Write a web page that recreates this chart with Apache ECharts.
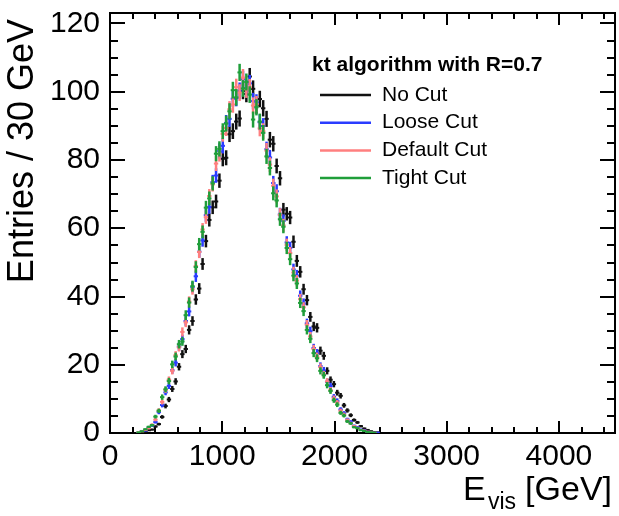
<!DOCTYPE html>
<html><head><meta charset="utf-8">
<script src="https://cdn.jsdelivr.net/npm/echarts@6/dist/echarts.min.js"></script>
<style>html,body{margin:0;padding:0;background:#fff;}#c{width:619px;height:516px;}</style>
</head><body><div id="c"></div>
<script>
// ---- data ----
const seriesNames = ['No Cut', 'Loose Cut', 'Default Cut', 'Tight Cut'];
const seriesColors = ['#111111', '#2a3cff', '#ff7f7f', '#1f9e3a'];
const binLowEdge = 240;   // GeV, low edge of first listed bin
const binWidth = 30;      // GeV
const eventWeight = 0.06; // per-entry weight used for statistical errors
const noCut = [0.0,0.1,0.3,0.8,1.0,1.9,2.6,4.7,7.9,9.8,
  12.9,15.1,19.4,23.1,24.6,30.2,32.8,39.1,42.3,49.5,
  56.2,62.4,66.1,67.8,73.9,80.3,80.6,87.5,88.4,91.2,
  92.1,100.2,99.3,104.4,100.8,95.9,97.8,95.1,92.0,85.9,
  84.7,78.2,74.6,65.4,64.2,63.1,56.0,50.4,47.2,42.1,
  38.9,34.0,31.2,30.8,24.1,22.6,18.2,15.6,14.3,11.8,
  10.9,8.1,6.6,5.2,3.8,3.1,2.0,1.3,0.9,0.5,
  0.3,0.2];
const looseCut = [0.1,0.6,0.7,1.5,2.2,3.2,6.1,8.2,11.9,13.8,
  18.4,20.6,25.3,27.5,32.8,35.6,42.7,45.9,53.1,56.4,
  63.8,66.2,73.5,75.4,82.6,84.1,90.8,92.0,97.9,98.1,
  100.2,103.6,101.0,102.4,97.2,96.8,91.0,89.9,83.1,80.7,
  73.2,70.8,64.0,62.1,55.8,54.2,47.9,46.1,40.2,37.9,
  32.1,29.8,24.9,23.4,19.6,18.3,15.0,13.8,10.6,9.4,
  6.9,5.8,4.0,3.3,2.1,1.7,1.0,0.8,0.4,0.3,
  0.1,0.1];
const defaultCut = [0.2,0.5,0.9,1.4,2.4,3.9,6.6,9.1,12.6,15.6,
  18.2,22.8,25.1,29.6,32.4,38.5,42.1,48.9,53.0,59.6,
  63.2,69.4,72.8,78.9,81.7,87.6,89.3,94.8,96.2,101.3,
  99.7,104.1,100.6,101.2,95.9,96.3,89.2,88.4,82.7,78.6,
  72.4,69.3,63.9,60.8,55.1,52.7,47.0,44.6,39.2,36.8,
  31.7,28.3,24.6,22.4,19.3,17.2,15.1,12.6,10.2,8.9,
  6.5,5.4,3.8,2.9,2.0,1.5,0.9,0.7,0.4,0.2,
  0.1,0.0];
const tightCut = [0.2,0.5,1.1,1.8,2.3,4.8,6.5,10.5,12.8,15.2,
  20.1,22.4,26.0,26.8,34.5,38.2,43.0,48.6,55.3,58.9,
  66.0,68.7,73.1,81.8,83.2,88.4,90.6,94.2,100.4,98.3,
  105.6,100.9,102.8,99.1,91.8,95.4,91.2,87.9,81.0,77.6,
  70.2,68.1,62.6,60.4,54.2,50.9,46.1,43.8,38.1,35.7,
  30.2,27.6,23.4,21.9,18.2,16.9,14.0,12.3,9.6,8.3,
  5.9,5.1,3.4,2.8,1.7,1.4,0.8,0.6,0.3,0.2,
  0.1,0.0];
const xTickLabels = [0, 1000, 2000, 3000, 4000];
const yTickLabels = [0, 20, 40, 60, 80, 100, 120];
const legendTitle = 'kt algorithm with R=0.7';
const yTitle = 'Entries / 30 GeV';

// ---- chart ----
const FONT = "'Liberation Sans', Arial, Helvetica, sans-serif";
const allSeries = [noCut, looseCut, defaultCut, tightCut];

function toPoints(vals) {
  const pts = [];
  vals.forEach((v, i) => {
    if (v > 0) pts.push([binLowEdge + binWidth * (i + 0.5), v, Math.sqrt(eventWeight * v)]);
  });
  return pts;
}

function xAx(pos, interval, len, labels) {
  return {
    type: 'value', position: pos, min: 0, max: 4500, interval: interval,
    axisLine: { show: false, onZero: false },
    axisTick: { show: true, inside: true, length: len, lineStyle: { color: '#000', width: 2 } },
    axisLabel: labels ? {
      show: true, color: '#000', fontFamily: FONT, fontSize: 30, margin: 9,
      formatter: v => xTickLabels.indexOf(v) >= 0 ? String(v) : ''
    } : { show: false },
    splitLine: { show: false }
  };
}
function yAx(pos, interval, len, labels) {
  return {
    type: 'value', position: pos, min: 0, max: 123, interval: interval,
    axisLine: { show: false, onZero: false },
    axisTick: { show: true, inside: true, length: len, lineStyle: { color: '#000', width: 2 } },
    axisLabel: labels ? {
      show: true, color: '#000', fontFamily: FONT, fontSize: 30, margin: 10,
      formatter: v => yTickLabels.indexOf(v) >= 0 ? String(v) : ''
    } : { show: false },
    splitLine: { show: false }
  };
}

const series = allSeries.map((vals, k) => ({
  name: seriesNames[k],
  type: 'custom',
  xAxisIndex: 0, yAxisIndex: 0,
  itemStyle: { color: seriesColors[k] },
  z: 10 + k,
  clip: true,
  data: toPoints(vals),
  renderItem: function (params, api) {
    const x = api.value(0), y = api.value(1), e = api.value(2);
    const lo = api.coord([x, y - e]), hi = api.coord([x, y + e]);
    const l = api.coord([x - binWidth / 2, y]), r = api.coord([x + binWidth / 2, y]);
    const col = seriesColors[k];
    return {
      type: 'group',
      children: [
        { type: 'line', shape: { x1: lo[0], y1: lo[1], x2: hi[0], y2: hi[1] }, style: { stroke: col, lineWidth: 2.5 } },
        { type: 'line', shape: { x1: l[0] - 0.5, y1: l[1], x2: r[0] + 0.5, y2: r[1] }, style: { stroke: col, lineWidth: 2 } }
      ]
    };
  }
}));

const legendGraphics = [
  { type: 'text', x: 312, y: 65, style: { text: legendTitle, fontFamily: FONT, fontWeight: 'bold', fontSize: 21, fill: '#000', align: 'left', verticalAlign: 'middle' } }
];
seriesNames.forEach((n, k) => {
  const yy = 95 + k * 27.7;
  legendGraphics.push({ type: 'line', shape: { x1: 320, y1: yy, x2: 371, y2: yy }, style: { stroke: seriesColors[k], lineWidth: 2.5 } });
  legendGraphics.push({ type: 'text', x: 382, y: yy, style: { text: n, fontFamily: FONT, fontSize: 21, fill: '#000', align: 'left', verticalAlign: 'middle' } });
});

const chart = echarts.init(document.getElementById('c'), null, { renderer: 'canvas' });
chart.setOption({
  animation: false,
  backgroundColor: '#fff',
  grid: { left: 110, right: 4, top: 13, bottom: 83, show: true, borderColor: '#000', borderWidth: 2, backgroundColor: 'transparent' },
  xAxis: [xAx('bottom', 1000, 12, true), xAx('bottom', 200, 6, false), xAx('top', 1000, 12, false), xAx('top', 200, 6, false)],
  yAxis: [yAx('left', 20, 15, true), yAx('left', 5, 8, false), yAx('right', 20, 15, false), yAx('right', 5, 8, false)],
  series: series,
  graphic: legendGraphics.concat([
    { type: 'text', x: 23, y: 19, rotation: Math.PI / 2, style: { text: yTitle, fontFamily: FONT, fontSize: 36, fill: '#000', align: 'right', verticalAlign: 'middle' } },
    { type: 'text', x: 463, y: 491, style: { text: 'E', fontFamily: FONT, fontSize: 34, fill: '#000', align: 'left', verticalAlign: 'middle' } },
    { type: 'text', x: 488, y: 503, style: { text: 'vis', fontFamily: FONT, fontSize: 23, fill: '#000', align: 'left', verticalAlign: 'middle' } },
    { type: 'text', x: 612, y: 491, style: { text: '[GeV]', fontFamily: FONT, fontSize: 34, fill: '#000', align: 'right', verticalAlign: 'middle' } }
  ])
});
</script>
</body></html>
